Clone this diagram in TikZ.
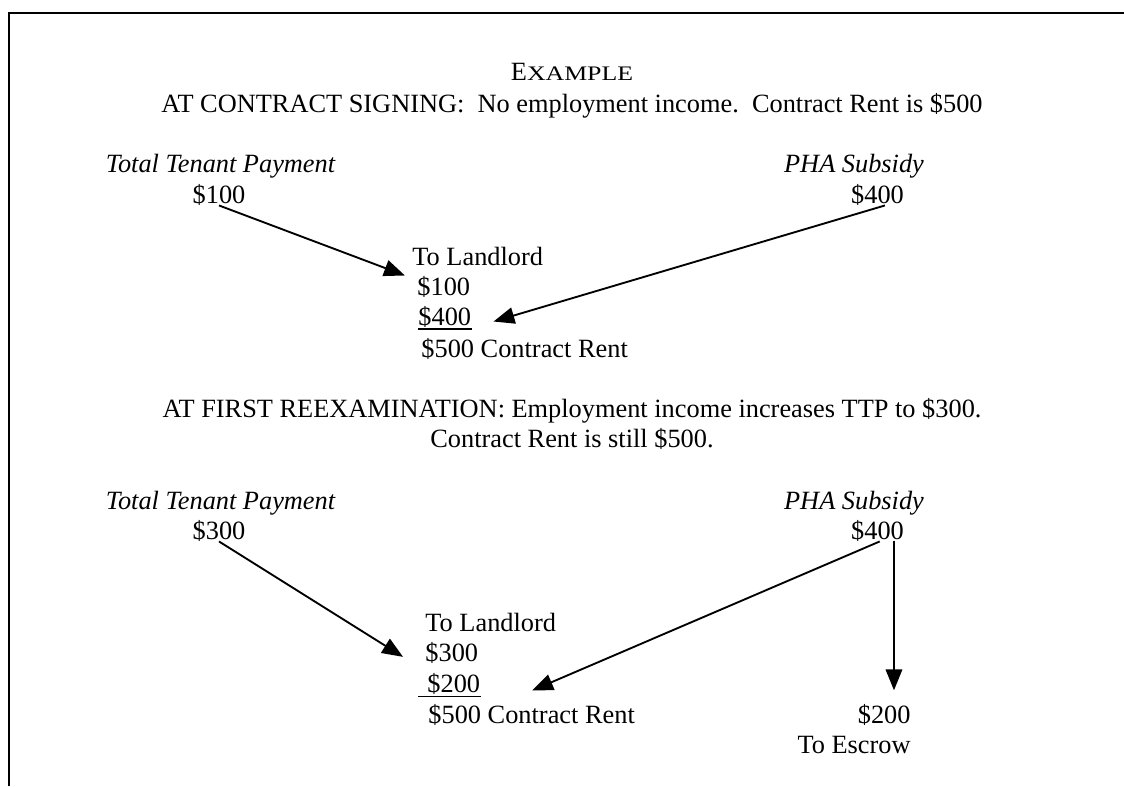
\documentclass[tikz,border=0pt]{standalone}
\usepackage{fontspec}
\setmainfont{Liberation Serif}
\usepackage{graphicx}
\usetikzlibrary{arrows.meta}
\frenchspacing

\begin{document}
\begin{tikzpicture}[x=0.016cm, y=-0.016cm,
	txt/.style={inner sep=0pt, font=\fontsize{12}{14}\selectfont},
	itxt/.style={inner sep=0pt, font=\fontsize{12}{14}\selectfont\itshape},
	flow/.style={draw=black, line width=0.85pt, -{Triangle[length=9.5pt, width=7.5pt]}},
	uline/.style={draw=black, line width=0.7pt}]
	\useasboundingbox (0,0) rectangle (1124,786);
	\draw[draw=black, line width=1pt] (9,786) -- (9,13) -- (1124,13);
	% first case
	\node[txt, anchor=base] (title) at (572,80) {E{\fontsize{9.4}{11}\selectfont\scalebox{1.25}[1]{XAMPLE}}};
	\node[txt, anchor=base] (signing) at (572,112) {AT CONTRACT SIGNING:\ \ No employment income.\ \ Contract Rent is \$500};
	\node[itxt, anchor=base] (ttpA) at (220.5,172) {Total Tenant Payment};
	\node[txt, anchor=base] (ttpAamt) at (219,203) {\$100};
	\node[itxt, anchor=base] (phaA) at (854,172) {PHA Subsidy};
	\node[txt, anchor=base] (phaAamt) at (877.5,203) {\$400};
	\node[txt, anchor=base west] (landA) at (412,265) {To Landlord};
	\node[txt, anchor=base west] (landA1) at (417,295) {\$100};
	\node[txt, anchor=base west] (landA2) at (418,325) {\$400};
	\node[txt, anchor=base west] (landA3) at (421,357) {\$500 Contract Rent};
	\draw[uline] ([yshift=-1.8pt]landA2.base west) -- ([yshift=-1.8pt]landA2.base east);
	\draw[flow] (ttpAamt.south) -- ([xshift=-5.5pt]landA1.north west);
	\draw[flow] ([xshift=3.4pt]phaAamt.south) -- ([xshift=10pt,yshift=-2.3pt]landA2.east);
	% first reexamination
	\node[txt, anchor=base] (firstexam) at (572,417) {AT FIRST REEXAMINATION: Employment income increases TTP to \$300.};
	\node[txt, anchor=base] (stillrent) at (572,447) {Contract Rent is still \$500.};
	\node[itxt, anchor=base] (ttpB) at (220.5,509) {Total Tenant Payment};
	\node[txt, anchor=base] (ttpBamt) at (219,539) {\$300};
	\node[itxt, anchor=base] (phaB) at (854,509) {PHA Subsidy};
	\node[txt, anchor=base] (phaBamt) at (877.5,539) {\$400};
	\node[txt, anchor=base west] (landB) at (425,631) {To Landlord};
	\node[txt, anchor=base west] (landB1) at (425,661) {\$300};
	\node[txt, anchor=base west] (landB2) at (427,692) {\$200};
	\node[txt, anchor=base west] (landB3) at (428,723) {\$500 Contract Rent};
	\node[txt, anchor=base east] (escB) at (911,723) {\$200};
	\node[txt, anchor=base east] (escB1) at (911,753) {To Escrow};
	\draw[uline] ([xshift=-4pt,yshift=-2pt]landB2.base west) -- ([yshift=-2pt]landB2.base east);
	\draw[flow] (ttpBamt.south) -- ([xshift=-10pt,yshift=-2pt]landB1.west);
	\draw[flow] ([xshift=1pt]phaBamt.south) -- ([xshift=23.5pt,yshift=-3.2pt]landB2.east);
	\path ([xshift=7.5pt]phaBamt.south) coordinate (dropTop);
	\path ([yshift=6pt]escB.north) coordinate (escTop);
	\draw[flow] (dropTop) -- (dropTop |- escTop);
\end{tikzpicture}
\end{document}
